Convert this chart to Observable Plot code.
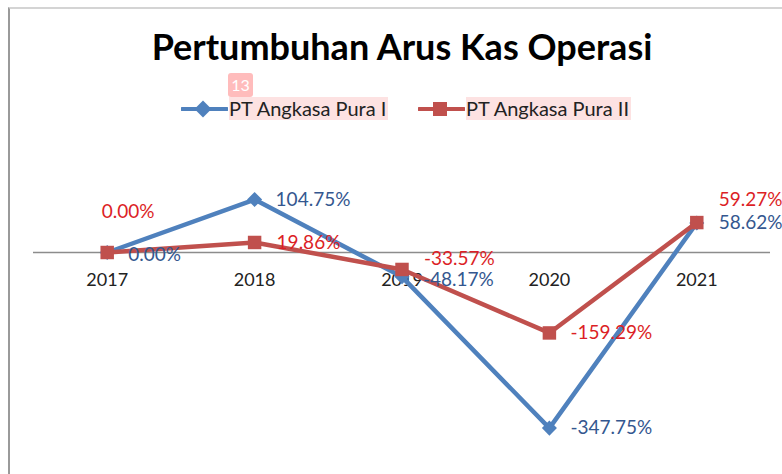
<!DOCTYPE html>
<html>
<head>
<meta charset="utf-8">
<script src="https://cdn.jsdelivr.net/npm/d3@7"></script>
<script src="https://cdn.jsdelivr.net/npm/@observablehq/plot@0.6"></script>
<style>
  html, body { margin: 0; padding: 0; background: #fff; }
  body { width: 782px; height: 474px; overflow: hidden; position: relative; font-family: Lato, "Open Sans", sans-serif; }
  #frame { position: absolute; left: 8px; top: 7px; right: -5px; bottom: -5px; border-left: 2px solid #9a9a9a; border-top: 2px solid #d4d4d4; pointer-events: none; }
  #title { height: 90px; position: relative; }
  #title span { position: absolute; left: 0; right: 0; top: 24px; text-align: center; font-weight: 700; font-size: 36px; color: #000; padding-left: 22px; }
  #legend { height: 40px; position: relative; font-size: 20px; color: #222; }
  .item { position: absolute; top: 7px; display: flex; align-items: center; }
  .item .txt { background: #fde2e2; line-height: 23px; padding-right: 2px; }
  #badge { position: absolute; left: 228px; top: -17px; width: 25px; height: 24px; background: #ffbcbc; color: #fff; font-size: 16px; border-radius: 3px; text-align: center; line-height: 24px; }
</style>
</head>
<body>
<div id="frame"></div>
<div id="title"><span>Pertumbuhan Arus Kas Operasi</span></div>
<div id="legend"></div>
<div id="chart"></div>
<script>
const years = ["2017", "2018", "2019", "2020", "2021"];
const seriesNames = ["PT Angkasa Pura I", "PT Angkasa Pura II"];
const apI = [0.00, 104.75, -48.17, -347.75, 58.62];
const apII = [0.00, 19.86, -33.57, -159.29, 59.27];

const lineColors = ["#4F81BD", "#C0504D"];
const labelColors = ["#34578f", "#dc1f26"];

const rows = [];
[apI, apII].forEach((vals, s) => vals.forEach((v, i) => rows.push({i, year: years[i], value: v, series: seriesNames[s], s})));
const yearRows = years.map((y, i) => ({i, year: y}));

// label nudges (styling only)
const nudge = {
  "0-2017": [21, 2, "start"], "0-2018": [21, 0, "start"], "0-2019": [21, 3, "start"],
  "0-2020": [21, 0, "start"], "0-2021": [22, 0, "start"],
  "1-2017": [21, -41, "middle"], "1-2018": [22, 0, "start"], "1-2019": [22, -11, "start"],
  "1-2020": [21, 0, "start"], "1-2021": [22, -23, "start"]
};
const fmt = v => v.toFixed(2) + "%";

// legend
const legend = document.getElementById("legend");
const badge = document.createElement("div");
badge.id = "badge"; badge.textContent = "13";
legend.appendChild(badge);
const legendPos = [181, 418];
seriesNames.forEach((name, s) => {
  const it = document.createElement("div");
  it.className = "item";
  it.style.left = legendPos[s] + "px";
  const marker = s === 0
    ? `<rect x="16" y="5" width="12" height="12" transform="rotate(45 22 11)" fill="${lineColors[s]}"/>`
    : `<rect x="15" y="4" width="14" height="14" fill="${lineColors[s]}"/>`;
  it.innerHTML = `<svg width="47" height="22" style="margin-right:1px"><line x1="1" x2="46" y1="11" y2="11" stroke="${lineColors[s]}" stroke-width="4" stroke-linecap="round"/>${marker}</svg><span class="txt">${name}</span>`;
  legend.appendChild(it);
});

const marks = [
  Plot.ruleY([0], {x1: -0.5, x2: years.length - 0.5, stroke: "#8c8c8c", strokeWidth: 1.5}),
  Plot.text(yearRows, {x: "i", y: 0, dy: 28, text: "year", fill: "#222", fontSize: 18}),
];
[0, 1].forEach(s => {
  const data = rows.filter(d => d.s === s);
  marks.push(Plot.line(data, {x: "i", y: "value", stroke: lineColors[s], strokeWidth: 4.5, strokeLinejoin: "round"}));
  marks.push(Plot.dot(data, {x: "i", y: "value", symbol: "square", r: s === 0 ? 6 : 7.6, rotate: s === 0 ? 45 : 0, fill: lineColors[s], stroke: "none"}));
});
rows.forEach(d => {
  const [dx, dy, anchor] = nudge[d.s + "-" + d.year];
  marks.push(Plot.text([d], {x: "i", y: "value", text: r => fmt(r.value), dx, dy, textAnchor: anchor, fill: labelColors[d.s], fontSize: 19}));
});

const chart = Plot.plot({
  width: 782,
  height: 344,
  marginLeft: 33,
  marginRight: 12,
  marginTop: 21,
  marginBottom: 20,
  style: {fontFamily: "Lato, 'Open Sans', sans-serif", background: "transparent", overflow: "visible"},
  x: {type: "linear", domain: [-0.5, years.length - 0.5], axis: null},
  y: {domain: [-400, 200], axis: null},
  marks
});
document.getElementById("chart").appendChild(chart);
</script>
</body>
</html>
